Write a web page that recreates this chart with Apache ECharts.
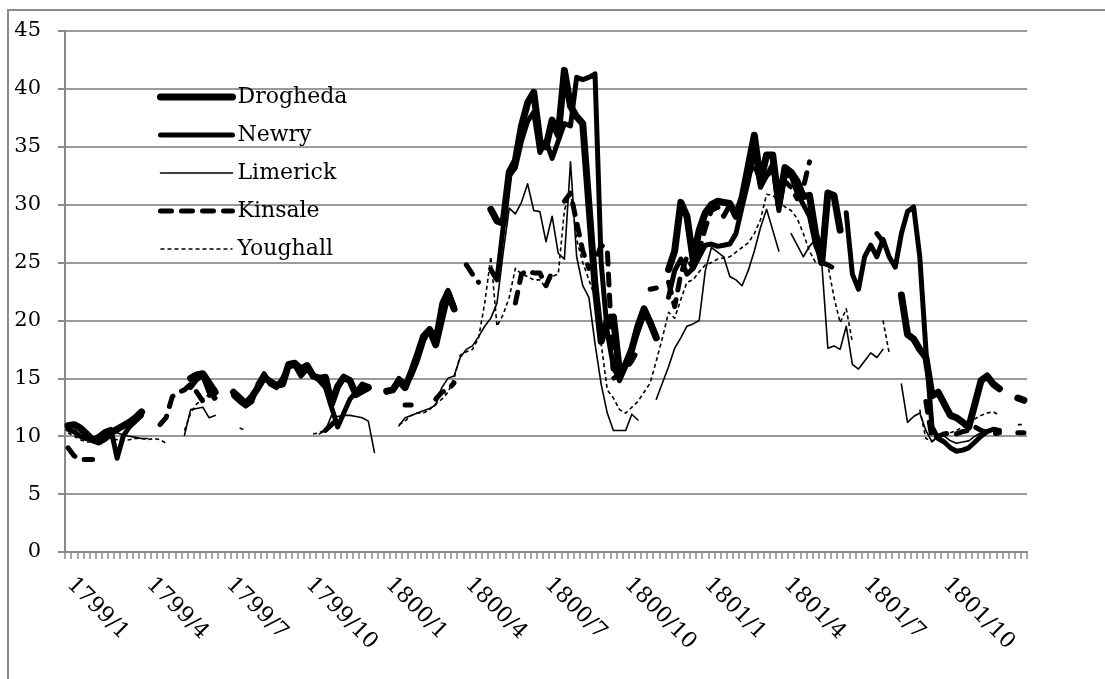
<!DOCTYPE html>
<html><head><meta charset="utf-8">
<script src="https://cdn.jsdelivr.net/npm/echarts@6/dist/echarts.min.js"></script>
<style>html,body{margin:0;padding:0;background:#fff}#c{width:1105px;height:679px}</style>
</head><body><div id="c"></div>
<script>
const weekCount = 157;
const tickLabels = ['1799/1','1799/4','1799/7','1799/10','1800/1','1800/4','1800/7','1800/10','1801/1','1801/4','1801/7','1801/10'];
const seriesNames = ['Drogheda','Newry','Limerick','Kinsale','Youghall'];
const _ = null;

const drogheda = [
10.9,11.0,10.7,10.2,9.7,9.5,9.8,10.3,10.6,10.9,11.2,11.6,12.1,
_,_,_,_,_,_,_,15.0,15.3,15.4,14.6,13.8,_,
_,13.8,13.3,12.8,13.4,14.2,15.1,14.7,14.4,14.5,16.2,16.3,15.8,
16.1,15.2,15.0,15.1,12.8,14.3,15.1,14.8,13.6,13.9,14.2,_,_,
13.9,14.0,14.8,14.2,15.5,17.0,18.6,19.2,17.9,20.2,22.4,21.0,_,
_,_,_,_,29.6,28.6,28.4,32.8,33.8,36.8,38.8,39.7,35.5,
35.0,37.3,36.0,41.6,38.5,37.6,37.0,30.0,23.0,18.2,20.0,20.3,15.5,
16.2,17.5,19.5,21.0,19.8,18.5,_,24.4,26.0,30.2,29.0,25.3,27.8,
29.3,30.0,30.3,30.2,30.1,29.0,30.6,33.3,36.0,32.0,34.3,34.3,30.0,
33.2,32.8,32.0,30.7,30.8,27.5,25.0,31.0,30.8,27.8,_,_,_,
_,_,_,_,_,_,22.2,18.8,18.4,17.5,16.8,13.5,13.8,
12.8,11.8,11.6,11.2,10.8,12.8,14.8,15.2,14.5,14.1,_,_,13.3,
13.1];

const newry = [
10.6,10.4,10.0,9.8,9.7,10.0,10.4,10.6,8.1,10.0,10.8,11.3,11.8,
_,_,_,_,_,_,_,14.2,14.9,15.2,13.8,13.3,_,
_,13.5,13.0,12.6,13.0,14.5,15.4,14.5,14.2,15.0,16.0,16.1,15.2,
15.8,15.3,14.8,14.2,12.5,10.8,12.0,13.2,13.8,14.5,14.3,_,_,
13.8,14.1,15.0,14.5,15.2,16.5,18.2,19.3,18.6,21.5,22.6,21.2,_,
_,_,_,_,24.4,23.5,28.0,32.5,33.2,35.5,37.2,38.0,34.5,
35.5,34.0,35.5,37.0,36.8,41.0,40.8,41.0,41.3,25.0,19.0,16.0,14.8,
16.0,17.5,19.0,20.5,20.0,18.7,_,22.0,24.3,25.3,24.0,24.5,25.5,
26.5,26.6,26.4,26.5,26.6,27.5,29.8,32.0,34.8,31.5,32.5,33.5,29.5,
32.5,32.5,31.0,30.0,29.0,26.5,25.2,_,_,_,29.3,24.0,22.7,
25.5,26.5,25.5,27.0,25.5,24.6,27.5,29.4,29.8,25.5,17.5,10.8,9.8,
9.5,9.0,8.7,8.8,9.0,9.5,10.0,10.4,10.6,10.5,_,_,_,
_];

const limerick = [
10.5,10.2,9.9,9.7,9.8,10.0,10.1,10.2,10.3,10.1,10.0,9.9,9.8,
9.8,_,_,_,_,_,10.1,12.3,12.4,12.5,11.6,11.8,_,
_,_,_,_,_,_,_,_,_,_,_,_,_,
_,_,10.2,10.5,11.8,11.7,11.8,11.8,11.7,11.6,11.3,8.6,_,
_,_,10.9,11.6,11.8,12.0,12.2,12.4,12.7,14.2,15.0,15.2,16.8,
17.5,17.8,18.6,19.5,20.2,21.5,25.8,29.7,29.2,30.2,31.8,29.5,29.4,
26.8,29.0,25.8,25.3,33.7,25.5,23.0,22.0,18.0,14.5,12.0,10.5,10.5,
10.5,11.9,11.4,_,_,13.2,14.6,16.0,17.6,18.5,19.5,19.7,20.0,
24.3,26.3,25.9,25.5,23.8,23.5,23.0,24.3,26.0,28.0,29.6,27.8,26.0,
_,27.5,26.5,25.5,26.4,27.0,25.0,17.6,17.8,17.5,19.5,16.2,15.8,
16.5,17.2,16.8,17.5,_,_,14.5,11.2,11.7,12.0,10.5,9.5,10.0,
10.0,9.6,9.4,9.5,9.6,10.0,10.3,10.5,10.7,10.6,_,_,_,
_];

const kinsale = [
9.0,8.3,8.0,8.0,8.0,_,_,_,_,_,_,_,_,
_,_,11.0,11.6,13.4,13.8,14.0,14.5,13.8,13.0,13.5,14.0,_,
_,_,_,_,_,_,_,_,_,_,_,_,_,
_,_,_,10.5,11.0,11.5,_,_,_,_,_,_,_,
_,_,_,12.7,12.7,_,_,_,13.2,13.8,14.0,14.6,_,
24.8,24.0,23.3,_,_,_,_,_,21.5,24.0,24.3,24.1,24.1,
23.0,24.2,_,30.3,31.0,28.5,26.0,24.5,25.0,26.5,26.2,15.0,15.3,
15.8,16.5,17.5,_,22.7,22.8,_,23.3,21.2,24.0,25.5,24.5,26.0,
28.0,29.5,29.8,29.0,30.0,29.2,30.5,32.5,33.5,32.0,32.5,33.0,31.0,
32.0,31.5,30.5,31.5,33.7,_,25.0,24.8,24.5,_,_,_,_,
_,_,27.5,26.8,27.0,_,_,_,_,_,13.0,9.8,10.0,
10.2,10.3,10.2,10.4,10.5,10.8,10.5,10.3,10.2,10.3,_,_,10.3,
10.3];

const youghall = [
10.3,10.0,9.7,9.5,9.5,9.7,9.9,9.8,9.7,9.6,9.7,9.8,9.8,
9.7,9.8,9.7,9.4,_,_,10.5,12.0,12.8,13.2,13.6,13.0,_,
_,_,10.7,10.5,_,_,_,_,_,_,_,_,_,
_,10.2,10.3,10.6,11.0,_,_,_,_,_,_,_,_,
_,_,11.0,11.3,11.8,12.0,12.0,12.3,12.8,13.2,13.8,15.0,17.0,
17.3,17.5,18.5,21.5,25.5,19.5,20.5,22.0,24.5,24.0,23.8,23.5,23.5,
22.8,23.8,24.0,29.5,31.2,27.0,25.0,23.5,22.0,18.0,14.0,13.3,12.3,
12.0,12.5,13.0,13.8,14.6,16.5,18.5,20.7,20.2,21.8,23.3,23.5,24.2,
24.8,25.0,25.3,25.4,25.5,25.9,26.3,26.7,27.5,28.7,30.9,30.8,30.3,
29.8,29.5,28.8,27.5,26.0,25.0,25.0,24.8,22.0,19.8,21.0,18.1,_,
_,_,_,20.0,17.2,_,_,_,_,12.3,9.8,9.6,9.8,
10.0,10.3,10.5,10.8,11.0,11.5,11.8,12.0,12.1,11.8,_,_,11.0,
11.0];

const categories = [];
for (let i = 0; i < weekCount; i++) {
  const d = new Date(Date.UTC(1799, 0, 5 + 7 * i));
  categories.push(d.getUTCFullYear() + '/' + (d.getUTCMonth() + 1) + '/' + d.getUTCDate());
}

const FONT = 'DejaVu Serif';
const styles = {
  Drogheda: {width: 7, type: 'solid', cap: 'round'},
  Newry:    {width: 5, type: 'solid', cap: 'round'},
  Limerick: {width: 1.6, type: 'solid', cap: 'round'},
  Kinsale:  {width: 5, type: [11, 10], cap: 'round'},
  Youghall: {width: 1.6, type: [4, 3], cap: 'butt'}
};
const dataMap = {Drogheda: drogheda, Newry: newry, Limerick: limerick, Kinsale: kinsale, Youghall: youghall};

const chart = echarts.init(document.getElementById('c'));
chart.setOption({
  animation: false,
  backgroundColor: '#fff',
  graphic: [{type: 'rect', silent: true, z: -10,
    shape: {x: 8, y: 10, width: 1300, height: 900},
    style: {fill: 'none', stroke: '#8a8a8a', lineWidth: 2}}],
  grid: {left: 65, right: 78, top: 31, bottom: 127, containLabel: false},
  legend: {
    orient: 'vertical', left: 152, top: 80, itemWidth: 72, itemHeight: 14, itemGap: 14,
    selectedMode: false,
    textStyle: {fontFamily: FONT, fontSize: 22, color: '#000', lineHeight: 24},
    itemStyle: {opacity: 0, borderWidth: 0},
    lineStyle: {width: 'inherit'},
    data: seriesNames.map(n => ({name: n, lineStyle: {width: styles[n].width, type: styles[n].type, cap: styles[n].cap}, itemStyle: {opacity: 0}}))
  },
  xAxis: {
    type: 'category', data: categories, boundaryGap: true,
    axisLine: {lineStyle: {color: '#8a8a8a', width: 2}},
    axisTick: {show: true, interval: 0, length: 7, lineStyle: {color: '#8a8a8a', width: 1.5}},
    axisLabel: {interval: 12, rotate: -45, margin: 27, fontFamily: FONT, fontSize: 22, color: '#000',
      padding: [0, 0, 0, 3],
      formatter: (v, idx) => (idx % 13 === 0 && tickLabels[idx / 13]) ? tickLabels[idx / 13] : ''},
    splitLine: {show: false}
  },
  yAxis: {
    type: 'value', min: 0, max: 45, interval: 5,
    axisLine: {show: true, lineStyle: {color: '#8a8a8a', width: 2}},
    axisTick: {show: true, length: 7, lineStyle: {color: '#8a8a8a', width: 2}},
    axisLabel: {margin: 24, fontFamily: FONT, fontSize: 21, color: '#000'},
    splitLine: {show: true, lineStyle: {color: '#9a9a9a', width: 2}}
  },
  series: seriesNames.map(n => ({
    name: n, type: 'line', data: dataMap[n], symbol: 'none', showSymbol: false,
    connectNulls: false, smooth: false,
    itemStyle: {color: '#000'},
    lineStyle: {color: '#000', width: styles[n].width, type: styles[n].type, cap: styles[n].cap, join: 'round'},
    emphasis: {disabled: true}
  }))
});
</script></body></html>
